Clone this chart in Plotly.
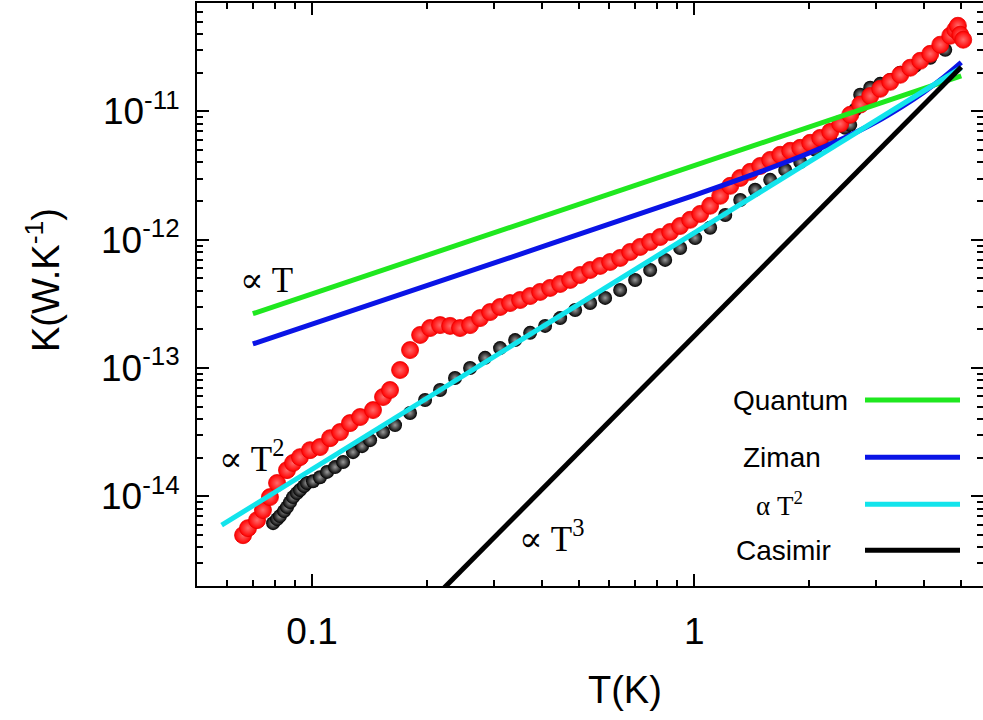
import numpy as np
import plotly.graph_objects as go

# ---------------- data ----------------
red_T = [0.0660, 0.0680, 0.0718, 0.0744, 0.0776, 0.0810, 0.0860, 0.0892, 0.0930, 0.0988,
         0.1049, 0.1115, 0.1184, 0.1257, 0.1336, 0.1444, 0.1534, 0.1600, 0.1700, 0.1805,
         0.1918, 0.2037, 0.2163, 0.2298, 0.2440, 0.2592, 0.2753, 0.2924, 0.3105, 0.3298,
         0.3504, 0.3722, 0.3953, 0.4198, 0.4459, 0.4736, 0.5030, 0.5343, 0.5675, 0.6027,
         0.6402, 0.6800, 0.7222, 0.7671, 0.8147, 0.8654, 0.9191, 0.9761, 1.037, 1.101,
         1.170, 1.243, 1.320, 1.402, 1.489, 1.581, 1.680, 1.784, 1.895, 2.012,
         2.137, 2.270, 2.411, 2.561, 2.720, 2.889, 3.068, 3.259, 3.462, 3.677,
         3.905, 4.148, 4.406, 4.679, 4.823, 4.90, 4.97, 5.06]
red_K = [4.98e-15, 5.65e-15, 6.52e-15, 7.81e-15, 9.86e-15, 1.27e-14, 1.60e-14, 1.82e-14, 2.02e-14, 2.29e-14,
         2.42e-14, 2.84e-14, 3.17e-14, 3.72e-14, 4.15e-14, 4.70e-14, 5.94e-14, 6.74e-14, 9.65e-14, 1.38e-13,
         1.81e-13, 2.05e-13, 2.16e-13, 2.13e-13, 2.05e-13, 2.16e-13, 2.45e-13, 2.73e-13, 2.99e-13, 3.21e-13,
         3.39e-13, 3.64e-13, 3.92e-13, 4.21e-13, 4.52e-13, 4.86e-13, 5.31e-13, 5.81e-13, 6.25e-13, 6.71e-13,
         7.21e-13, 8.03e-13, 8.79e-13, 9.61e-13, 1.05e-12, 1.15e-12, 1.28e-12, 1.43e-12, 1.59e-12, 1.84e-12,
         2.20e-12, 2.63e-12, 3.03e-12, 3.38e-12, 3.76e-12, 4.19e-12, 4.59e-12, 4.93e-12, 5.20e-12, 5.69e-12,
         6.22e-12, 6.93e-12, 8.00e-12, 9.41e-12, 1.13e-11, 1.32e-11, 1.50e-11, 1.70e-11, 1.93e-11, 2.19e-11,
         2.48e-11, 2.81e-11, 3.31e-11, 3.89e-11, 4.33e-11, 4.65e-11, 3.96e-11, 3.62e-11]

black_T = [0.0791, 0.0810, 0.0824, 0.0845, 0.0860, 0.0876, 0.0892, 0.0913, 0.0930, 0.0953,
           0.0970, 0.1006, 0.1049, 0.1095, 0.1149, 0.1206, 0.1280, 0.1352, 0.1419, 0.1534,
           0.1649, 0.1805, 0.1976, 0.2163, 0.2367, 0.2592, 0.2837, 0.3105, 0.3400, 0.3722,
           0.4073, 0.4459, 0.4882, 0.5343, 0.5848, 0.6402, 0.7006, 0.7671, 0.8397, 0.9191,
           1.006, 1.101, 1.206, 1.320, 1.444, 1.581, 1.731, 1.895, 2.074, 2.270,
           2.485, 2.561, 2.639, 2.720, 2.889, 3.068, 3.259, 3.462, 3.789, 4.148, 4.540]
black_K = [6.18e-15, 6.64e-15, 7.01e-15, 7.67e-15, 8.24e-15, 9.01e-15, 9.86e-15, 1.06e-14, 1.12e-14, 1.20e-14,
           1.27e-14, 1.31e-14, 1.41e-14, 1.55e-14, 1.69e-14, 1.85e-14, 2.21e-14, 2.46e-14, 2.74e-14, 3.17e-14,
           3.59e-14, 4.46e-14, 5.63e-14, 6.74e-14, 8.36e-14, 1.00e-13, 1.20e-13, 1.43e-13, 1.65e-13, 1.88e-13,
           2.13e-13, 2.45e-13, 2.83e-13, 3.21e-13, 3.52e-13, 4.06e-13, 4.86e-13, 5.81e-13, 6.96e-13, 8.63e-13,
           1.03e-12, 1.24e-12, 1.56e-12, 2.04e-12, 2.45e-12, 2.93e-12, 3.50e-12, 4.04e-12, 5.02e-12, 6.00e-12,
           7.45e-12, 7.86e-12, 1.03e-11, 1.35e-11, 1.53e-11, 1.64e-11, 1.76e-11, 2.00e-11, 2.27e-11, 2.62e-11, 3.02e-11]

quantum_T = [0.07, 5.0]
quantum_K = [2.65e-13, 1.89e-11]

ziman_T = [0.07, 0.3, 1.0, 1.5, 2.0, 2.5, 3.0, 3.5, 4.0, 4.5, 5.0]
ziman_K = [1.54e-13, 6.6e-13, 2.22e-12, 3.41e-12, 4.74e-12, 6.32e-12, 8.3e-12, 1.09e-11, 1.42e-11, 1.85e-11, 2.41e-11]

fitT2_T = [0.058, 5.0]
fitT2_K = [5.96e-15, 2.19e-11]

casimir_T = [0.2, 5.0]
casimir_K = [1.42e-15, 2.22e-11]

x_tickvals = [0.1, 1]
x_ticktext = ["0.1", "1"]
y_tickvals = [1e-14, 1e-13, 1e-12, 1e-11]
y_ticktext = ["10<sup>-14</sup>", "10<sup>-13</sup>", "10<sup>-12</sup>", "10<sup>-11</sup>"]

legend_names = ["Quantum", "Ziman", "\u03b1 T<sup>2</sup>", "Casimir"]
legend_colors = ["#1fe81f", "#0a14e6", "#12e4ec", "#000000"]

# ---------------- figure ----------------
SANS = "Liberation Sans, Arial, sans-serif"
SERIF = "Liberation Serif, DejaVu Serif, serif"

fig = go.Figure()

fig.add_trace(go.Scatter(
    x=black_T, y=black_K, mode="markers",
    marker=dict(size=14, color="#000000",
                gradient=dict(type="radial", color="#9a9a9a"),
                line=dict(width=0)),
    showlegend=False))

fig.add_trace(go.Scatter(
    x=red_T, y=red_K, mode="markers",
    marker=dict(size=17, color="#ff0000",
                gradient=dict(type="radial", color="#ff6a6a"),
                line=dict(width=0.8, color="#e80000")),
    showlegend=False))

line_sets = [(quantum_T, quantum_K, legend_colors[0], "linear"),
             (ziman_T, ziman_K, legend_colors[1], "spline"),
             (fitT2_T, fitT2_K, legend_colors[2], "linear"),
             (casimir_T, casimir_K, legend_colors[3], "linear")]
for xs, ys, col, shp in line_sets:
    fig.add_trace(go.Scatter(x=xs, y=ys, mode="lines",
                             line=dict(color=col, width=5, shape=shp),
                             showlegend=False))

# manual legend (labels left of the line samples)
L_left, P_w = 197, 983 - 197
P_top, P_bot = 3.3, 585.7
def px(xp):
    return (xp - L_left) / P_w
def py(yp):
    return (P_bot - yp) / (P_bot - P_top)

legend_y = [400, 457, 504, 550]
legend_cx = [790, 782, 779, 783]
for name, col, yy, cx in zip(legend_names, legend_colors, legend_y, legend_cx):
    fig.add_shape(type="line", xref="paper", yref="paper",
                  x0=px(865), x1=px(960), y0=py(yy), y1=py(yy),
                  line=dict(color=col, width=5))
    is_fit = "T<sup>" in name
    fig.add_annotation(xref="paper", yref="paper", x=px(cx), y=py(yy),
                       text=name, showarrow=False, xanchor="center", yanchor="middle",
                       font=dict(family=SERIF if is_fit else SANS,
                                 size=27 if is_fit else 28, color="black"))

# power-law annotations
for txt, cx, cy in [("\u221d T", 266, 281),
                    ("\u221d T<sup>2</sup>", 251, 456),
                    ("\u221d T<sup>3</sup>", 551, 536)]:
    fig.add_annotation(xref="paper", yref="paper", x=px(cx), y=py(cy), text=txt,
                       showarrow=False, xanchor="center", yanchor="middle",
                       font=dict(family=SERIF, size=35, color="black"))

# axis titles
fig.add_annotation(xref="paper", yref="paper", x=px(43), y=py(280), text="K(W.K<sup>-1</sup>)",
                   textangle=-90, showarrow=False, xanchor="center", yanchor="middle",
                   font=dict(family=SANS, size=38, color="black"))
fig.add_annotation(xref="paper", yref="paper", x=px(625), y=py(690), text="T(K)",
                   showarrow=False, xanchor="center", yanchor="middle",
                   font=dict(family=SANS, size=38, color="black"))

x_minor = [0.06, 0.07, 0.08, 0.09, 0.2, 0.3, 0.4, 0.5, 0.6, 0.7, 0.8, 0.9, 2, 3, 4, 5]
y_minor = [m * 10.0 ** e for e in range(-15, -10) for m in range(2, 10)]

axis_common = dict(type="log", showgrid=False, zeroline=False,
                   showline=True, linewidth=2, linecolor="black", mirror="allticks",
                   ticks="inside", ticklen=12, tickwidth=2, tickcolor="black",
                   tickfont=dict(family=SANS, size=37, color="black"))

fig.update_xaxes(**axis_common, range=[np.log10(0.05), np.log10(5.7)],
                 tickmode="array", tickvals=x_tickvals, ticktext=x_ticktext,
                 ticklabelstandoff=12,
                 minor=dict(tickmode="array", tickvals=x_minor, ticks="inside", ticklen=6,
                            tickwidth=2, tickcolor="black", showgrid=False))
fig.update_yaxes(**axis_common, range=[np.log10(2e-15), np.log10(7e-11)],
                 tickmode="array", tickvals=y_tickvals, ticktext=y_ticktext,
                 ticklabelstandoff=8,
                 minor=dict(tickmode="array", tickvals=y_minor, ticks="inside", ticklen=6,
                            tickwidth=2, tickcolor="black", showgrid=False))

fig.update_layout(width=983, height=720,
                  margin=dict(l=197, r=0, t=3, b=134, autoexpand=False),
                  plot_bgcolor="white", paper_bgcolor="white",
                  showlegend=False)

# remove the browser's default 8px page margin so the figure sits at the window origin
fig.write_html("out.html",
               config={"displayModeBar": False},
               post_script="document.body.style.margin='0';document.body.style.overflow='hidden';")
